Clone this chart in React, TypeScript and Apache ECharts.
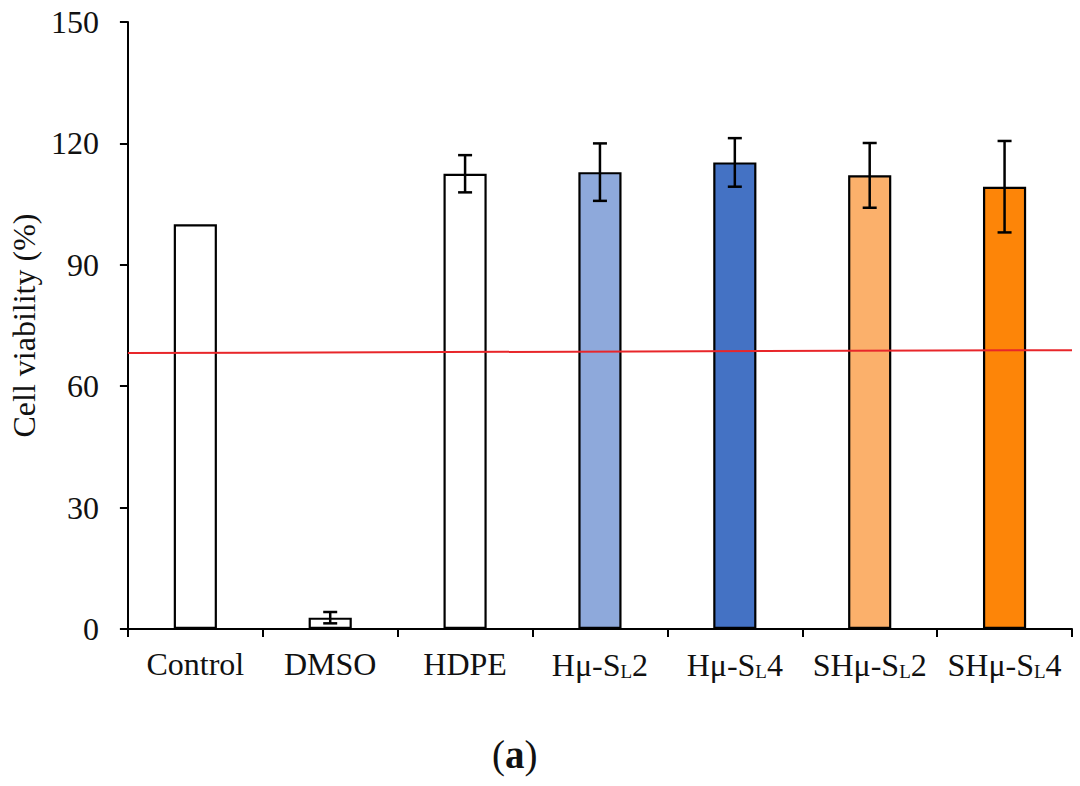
import React, { useEffect, useRef } from "react";
import * as echarts from "echarts";

const categories = ["Control", "DMSO", "HDPE", "Hμ-S{sub|L}2", "Hμ-S{sub|L}4", "SHμ-S{sub|L}2", "SHμ-S{sub|L}4"];
const means = [100, 2.8, 112.5, 112.9, 115.3, 112.1, 109.3];
const errors = [0, 1.4, 4.6, 7.1, 6.0, 8.0, 11.3];
const barColors = ["#FFFFFF", "#FFFFFF", "#FFFFFF", "#8EA9DB", "#4472C4", "#FBB06B", "#FD8508"];
const thresholdLine = [[0, 68.2], [1, 68.9]];
const yTicks = { min: 0, max: 150, interval: 30 };

const serif = "'Liberation Serif', 'DejaVu Serif', serif";

export default function App() {
  const ref = useRef<HTMLDivElement>(null);
  useEffect(() => {
    if (!ref.current) return;
    const chart = echarts.init(ref.current, undefined, { renderer: "svg" });
    const errData = means.map((m, i) => [i, m - errors[i], m + errors[i], errors[i]]);
    chart.setOption({
      animation: false,
      backgroundColor: "#ffffff",
      grid: { left: 126, right: 8, top: 22, bottom: 157 },
      xAxis: [
        {
          type: "category",
          data: categories,
          axisLine: { lineStyle: { color: "#000", width: 2 } },
          axisTick: { show: true, length: 8, lineStyle: { color: "#000", width: 2 } },
          axisLabel: {
            color: "#111",
            fontFamily: serif,
            fontSize: 32,
            margin: 19,
            interval: 0,
            rich: {
              sub: { fontSize: 19, fontFamily: serif, color: "#111", verticalAlign: "bottom", padding: [14, 0, 0, 0] },
            },
          },
        },
        { type: "value", min: 0, max: 1, show: false },
      ],
      yAxis: {
        type: "value",
        min: yTicks.min,
        max: yTicks.max,
        interval: yTicks.interval,
        name: "Cell viability (%)",
        nameLocation: "middle",
        nameGap: 80,
        nameTextStyle: { fontFamily: serif, fontSize: 32, color: "#111" },
        axisLine: { show: true, lineStyle: { color: "#000", width: 2 } },
        axisTick: { show: true, length: 8, lineStyle: { color: "#000", width: 2 } },
        axisLabel: { color: "#111", fontFamily: serif, fontSize: 32, margin: 29 },
        splitLine: { show: false },
      },
      series: [
        {
          type: "bar",
          data: means.map((v, i) => ({ value: v, itemStyle: { color: barColors[i] } })),
          barWidth: "32%",
          itemStyle: { borderColor: "#000", borderWidth: 2.2 },
          z: 2,
        },
        {
          type: "custom",
          xAxisIndex: 0,
          yAxisIndex: 0,
          data: errData,
          z: 5,
          renderItem: (params: any, api: any) => {
            if (api.value(3) <= 0) return { type: "group", children: [] };
            const x = api.value(0);
            const lo = api.coord([x, api.value(1)]);
            const hi = api.coord([x, api.value(2)]);
            const hw = 7;
            const style = { stroke: "#000", lineWidth: 2.5 };
            return {
              type: "group",
              children: [
                { type: "line", shape: { x1: hi[0], y1: hi[1], x2: lo[0], y2: lo[1] }, style },
                { type: "line", shape: { x1: hi[0] - hw, y1: hi[1], x2: hi[0] + hw, y2: hi[1] }, style },
                { type: "line", shape: { x1: lo[0] - hw, y1: lo[1], x2: lo[0] + hw, y2: lo[1] }, style },
              ],
            };
          },
        },
        {
          type: "line",
          xAxisIndex: 1,
          yAxisIndex: 0,
          data: thresholdLine,
          symbol: "none",
          lineStyle: { color: "#E8262A", width: 2 },
          z: 4,
        },
      ],
      graphic: [
        {
          type: "text",
          left: 492,
          top: 735,
          style: {
            text: "({b|a})",
            fontFamily: serif,
            fontSize: 39,
            fill: "#111",
            rich: { b: { fontFamily: serif, fontSize: 39, fontWeight: "bold", fill: "#111" } },
          },
        },
      ],
    });
    return () => chart.dispose();
  }, []);
  return <div ref={ref} style={{ width: 1080, height: 786, position: "absolute", left: 0, top: 0 }} />;
}
